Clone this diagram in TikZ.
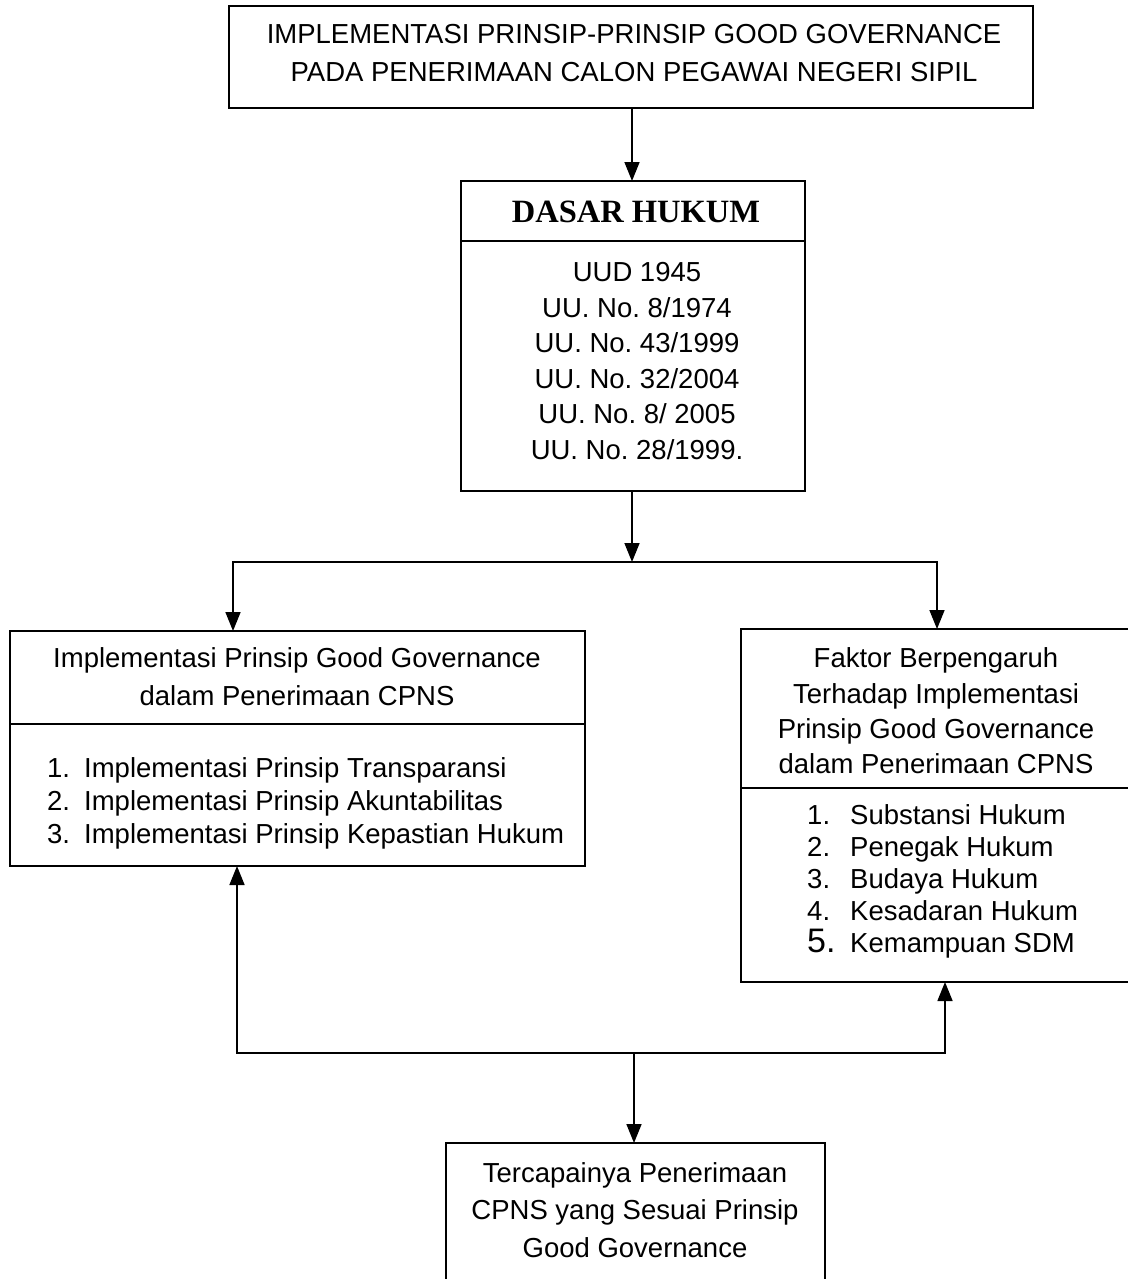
\documentclass[tikz,border=0pt]{standalone}
\usepackage{fontspec}
\setmainfont{Liberation Sans}
\newfontfamily\titlefont{Liberation Serif}
\usetikzlibrary{arrows.meta}
\frenchspacing
\begin{document}
\begin{tikzpicture}[x=1pt,y=-1pt,
  box/.style={draw, line width=2pt, inner sep=0pt, outer sep=0pt},
  divider/.style={line width=2pt},
  conn/.style={line width=1.6pt, line cap=rect},
  arr/.style={line width=1.6pt, -{Triangle[width=15pt,length=19pt]}},
  txt/.style={inner sep=0pt, align=center},
  lst/.style={inner sep=0pt, align=left, anchor=west},
]
\useasboundingbox (0,0) rectangle (1127,1279);

% top box
\node[box, minimum width=804pt, minimum height=102pt] (top) at (631,57) {};
\node[txt, font=\fontsize{27.5}{38.5}\selectfont] (toptxt) at (634,53)
  {IMPLEMENTASI PRINSIP-PRINSIP GOOD GOVERNANCE\\PADA PENERIMAAN CALON PEGAWAI NEGERI SIPIL};

% dasar hukum
\node[box, minimum width=344pt, minimum height=310pt] (dasar) at (633,336) {};
\draw[divider] (dasar.west |- 0,241) -- (dasar.east |- 0,241);
\node[inner sep=0pt, font=\titlefont\bfseries\fontsize{32.5}{36}\selectfont] (dasartitle) at (636,212) {DASAR HUKUM};
\node[txt, font=\fontsize{27.5}{35.6}\selectfont] (dasarlist) at (637,361)
  {UUD 1945\\UU. No. 8/1974\\UU. No. 43/1999\\UU. No. 32/2004\\UU. No. 8/ 2005\\UU. No. 28/1999.};

% left box
\node[box, minimum width=575pt, minimum height=235pt] (left) at (297.5,748.5) {};
\draw[divider] (left.west |- 0,724) -- (left.east |- 0,724);
\node[txt, font=\fontsize{27.5}{38}\selectfont] (lefthead) at (297,677)
  {Implementasi Prinsip Good Governance\\dalam Penerimaan CPNS};
\node[lst, font=\fontsize{27.5}{33}\selectfont] (leftlist) at (47,803)
  {\makebox[37pt][l]{1.}Implementasi Prinsip Transparansi\\
   \makebox[37pt][l]{2.}Implementasi Prinsip Akuntabilitas\\
   \makebox[37pt][l]{3.}Implementasi Prinsip Kepastian Hukum};

% right box
\node[box, minimum width=388pt, minimum height=353pt] (right) at (935,805.5) {};
\draw[divider] (right.west |- 0,788) -- (right.east |- 0,788);
\node[txt, font=\fontsize{27.5}{35.3}\selectfont] (righthead) at (936,711)
  {Faktor Berpengaruh\\Terhadap Implementasi\\Prinsip Good Governance\\dalam Penerimaan CPNS};
\node[lst, font=\fontsize{27.5}{32}\selectfont] (rightlist) at (807,881)
  {\makebox[43pt][l]{1.}Substansi Hukum\\
   \makebox[43pt][l]{2.}Penegak Hukum\\
   \makebox[43pt][l]{3.}Budaya Hukum\\
   \makebox[43pt][l]{4.}Kesadaran Hukum\\
   \makebox[43pt][l]{\fontsize{34}{34}\selectfont 5.}Kemampuan SDM};

% bottom box
\node[box, minimum width=379pt, minimum height=160pt] (bottom) at (635.5,1223) {};
\node[txt, font=\fontsize{27.5}{37.5}\selectfont] (bottomtxt) at (635,1210)
  {Tercapainya Penerimaan\\CPNS yang Sesuai Prinsip\\Good Governance};

% connectors
\coordinate (jm) at (632,562);
\coordinate (jl) at (233,562);
\coordinate (jr) at (937,562);
\draw[arr] (top.south -| jm) -- (dasar.north -| jm);
\draw[arr] (dasar.south -| jm) -- (jm);
\draw[conn] (jl) -- (jr);
\draw[arr] (jl) -- (left.north -| jl);
\draw[arr] (jr) -- (right.north -| jr);

\coordinate (bl) at (237,1053);
\coordinate (br) at (945,1053);
\coordinate (bm) at (634,1053);
\draw[conn] (bl) -- (br);
\draw[arr] (bl) -- (left.south -| bl);
\draw[arr] (br) -- (right.south -| br);
\draw[arr] (bm) -- (bottom.north -| bm);
\end{tikzpicture}
\end{document}
